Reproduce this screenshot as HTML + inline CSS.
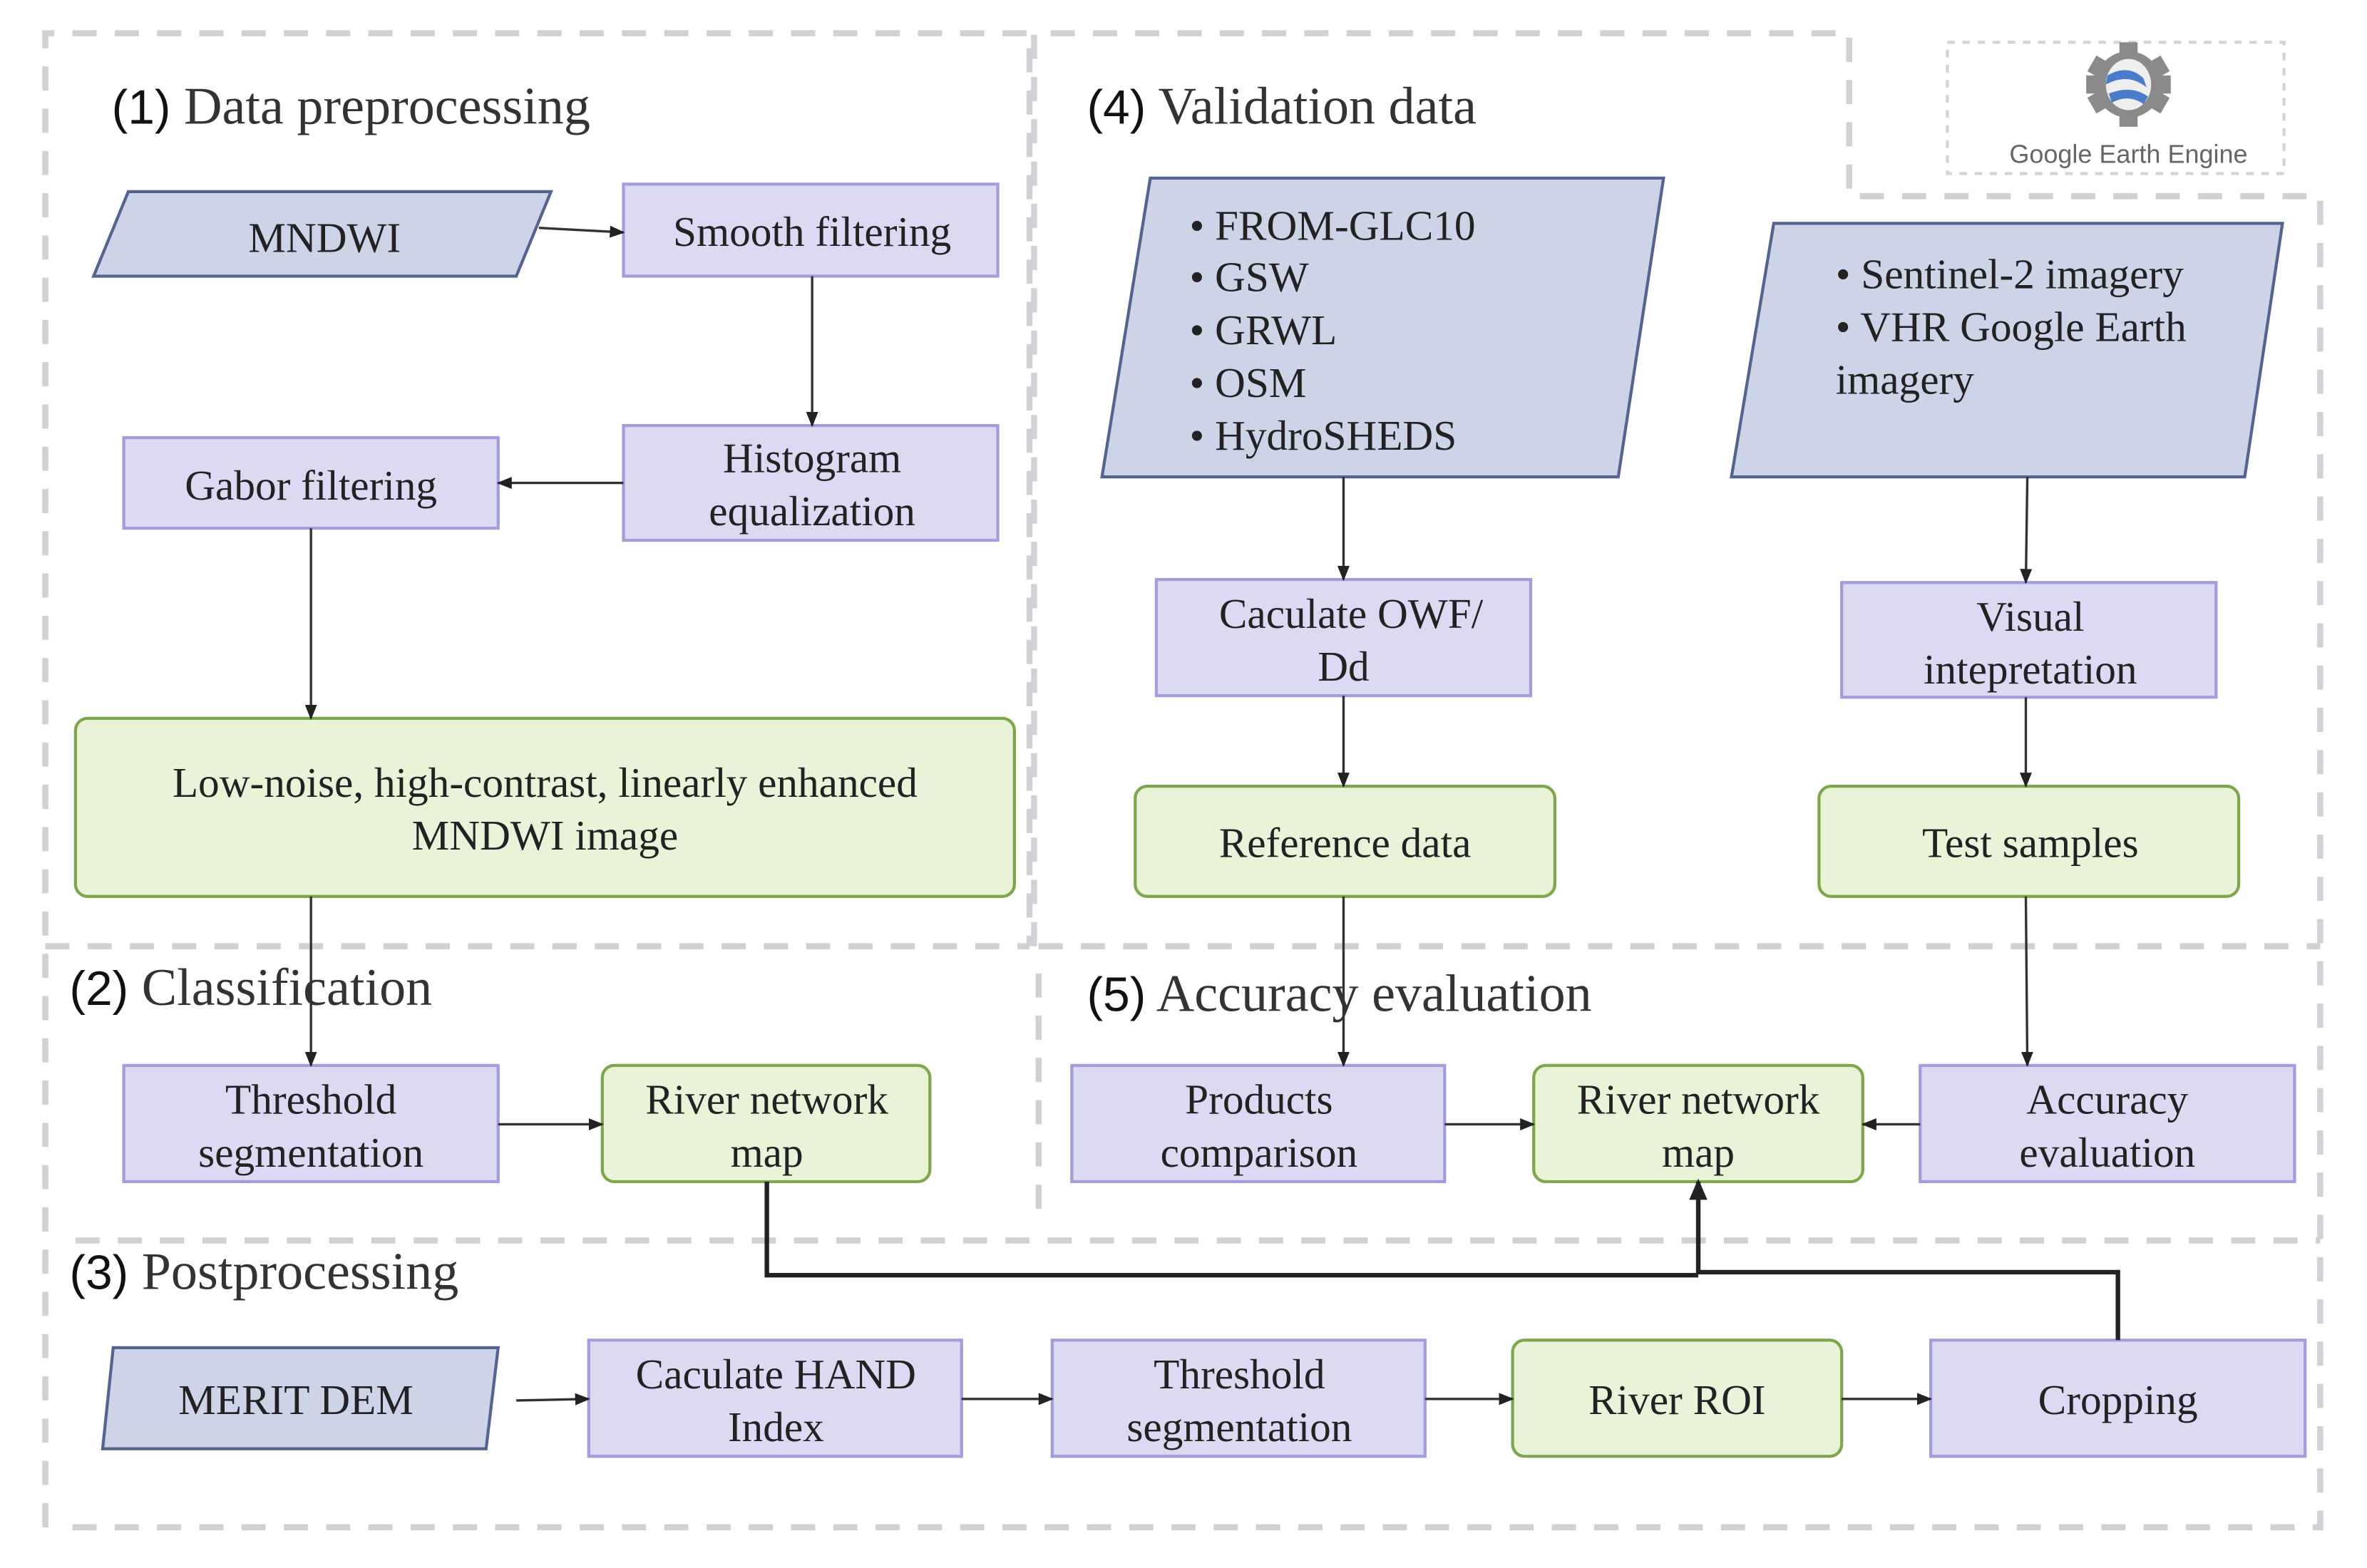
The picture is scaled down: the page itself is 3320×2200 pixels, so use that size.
<!DOCTYPE html>
<html><head><meta charset="utf-8"><style>
html,body{margin:0;padding:0;background:#fff}
svg{display:block}
.t{font-family:"Liberation Serif",serif;font-size:28px;fill:#222;text-anchor:middle}
.h{font-family:"Liberation Serif",serif;font-size:35px;fill:#333}
.n{font-family:"Liberation Sans",sans-serif;font-size:32px;fill:#111}
.b{fill:#dcdaf2;stroke:#a39ddb;stroke-width:2}
.g{fill:#e9f3d7;stroke:#7ea64c;stroke-width:2}
.p{fill:#cdd4e8;stroke:#55648f;stroke-width:2}
.d{fill:none;stroke:#cfd1d4;stroke-width:4;stroke-dasharray:16 12}
.a{stroke:#333;stroke-width:1.6;fill:none;marker-end:url(#ar)}
</style></head><body>
<svg width="3320" height="2200" viewBox="0 0 1568 1039" preserveAspectRatio="none" xmlns="http://www.w3.org/2000/svg">
<defs><marker id="ar" markerWidth="10" markerHeight="10" refX="9" refY="5" orient="auto" markerUnits="userSpaceOnUse"><path d="M0,1 L10,5 L0,9 z" fill="#222"/></marker>
<marker id="ar2" markerWidth="14" markerHeight="14" refX="12" refY="7" orient="auto" markerUnits="userSpaceOnUse"><path d="M0,1 L14,7 L0,13 z" fill="#222"/></marker></defs>
<rect width="1568" height="1039" fill="#fff"/>
<path class="d" d="M30,1012 V22 H682 V627"/>
<path class="d" d="M685,627 V22 H1225 V130 H1537 V1012 H40"/>
<path class="d" d="M30,627 H682"/>
<path class="d" d="M688,627 H1537"/>
<path class="d" d="M688,645 V810"/>
<path class="d" d="M50,822 H1537"/>
<rect x="1290" y="28" width="223" height="87" fill="none" stroke="#d4d4d4" stroke-width="2" stroke-dasharray="5 5"/>
<g transform="translate(1410,56)">
<circle r="22" fill="#8a8a8a"/>
<g fill="#8a8a8a"><rect x="-6" y="-28" width="12" height="10"/><rect x="-6" y="18" width="12" height="10"/><rect x="-28" y="-6" width="10" height="12"/><rect x="18" y="-6" width="10" height="12"/>
<rect x="-6" y="-28" width="12" height="10" transform="rotate(60)"/><rect x="-6" y="-28" width="12" height="10" transform="rotate(120)"/><rect x="-6" y="-28" width="12" height="10" transform="rotate(-60)"/><rect x="-6" y="-28" width="12" height="10" transform="rotate(-120)"/></g>
<ellipse rx="15" ry="17" fill="#eee"/>
<path d="M-14,-6 Q0,-14 10,-4 L12,2 Q0,-8 -15,0Z M-13,6 Q2,0 13,8 L10,13 Q0,6 -11,12Z" fill="#4a7cc9"/>
</g>
<text x="1410" y="108" font-family="Liberation Sans,sans-serif" font-size="17" fill="#666" text-anchor="middle">Google Earth Engine</text>
<text x="74" y="82"><tspan class="n">(1)</tspan><tspan class="h"> Data preprocessing</tspan></text>
<text x="720" y="82"><tspan class="n">(4)</tspan><tspan class="h"> Validation data</tspan></text>
<text x="46" y="666"><tspan class="n">(2)</tspan><tspan class="h"> Classification</tspan></text>
<text x="720" y="670"><tspan class="n">(5)</tspan><tspan class="h"> Accuracy evaluation</tspan></text>
<text x="46" y="854"><tspan class="n">(3)</tspan><tspan class="h"> Postprocessing</tspan></text>
<polygon class="p" points="85,127 365,127 342,183 62,183"/>
<text class="t" x="215" y="167">MNDWI</text>
<rect class="b" x="413" y="122" width="248" height="61"/>
<text class="t" x="538" y="163">Smooth filtering</text>
<rect class="b" x="413" y="282" width="248" height="76"/>
<text class="t" x="538" y="313">Histogram</text><text class="t" x="538" y="348">equalization</text>
<rect class="b" x="82" y="290" width="248" height="60"/>
<text class="t" x="206" y="331">Gabor filtering</text>
<rect class="g" x="50" y="476" width="622" height="118" rx="8"/>
<text class="t" x="361" y="528">Low-noise, high-contrast, linearly enhanced</text>
<text class="t" x="361" y="563">MNDWI image</text>
<polygon class="p" points="762,118 1102,118 1072,316 730,316"/>
<text class="t" x="788" y="159" style="text-anchor:start">• FROM-GLC10</text>
<text class="t" x="788" y="193" style="text-anchor:start">• GSW</text>
<text class="t" x="788" y="228" style="text-anchor:start">• GRWL</text>
<text class="t" x="788" y="263" style="text-anchor:start">• OSM</text>
<text class="t" x="788" y="298" style="text-anchor:start">• HydroSHEDS</text>
<polygon class="p" points="1175,148 1512,148 1487,316 1147,316"/>
<text class="t" x="1216" y="191" style="text-anchor:start">• Sentinel-2 imagery</text>
<text class="t" x="1216" y="226" style="text-anchor:start">• VHR Google Earth</text>
<text class="t" x="1216" y="261" style="text-anchor:start">imagery</text>
<rect class="b" x="766" y="384" width="248" height="77"/>
<text class="t" x="895" y="416">Caculate OWF/</text><text class="t" x="890" y="451">Dd</text>
<rect class="b" x="1220" y="386" width="248" height="76"/>
<text class="t" x="1345" y="418">Visual</text><text class="t" x="1345" y="453">intepretation</text>
<rect class="g" x="752" y="521" width="278" height="73" rx="8"/>
<text class="t" x="891" y="568">Reference data</text>
<rect class="g" x="1205" y="521" width="278" height="73" rx="8"/>
<text class="t" x="1345" y="568">Test samples</text>
<rect class="b" x="82" y="706" width="248" height="77"/>
<text class="t" x="206" y="738">Threshold</text><text class="t" x="206" y="773">segmentation</text>
<rect class="g" x="399" y="706" width="217" height="77" rx="8"/>
<text class="t" x="508" y="738">River network</text><text class="t" x="508" y="773">map</text>
<rect class="b" x="710" y="706" width="247" height="77"/>
<text class="t" x="834" y="738">Products</text><text class="t" x="834" y="773">comparison</text>
<rect class="g" x="1016" y="706" width="218" height="77" rx="8"/>
<text class="t" x="1125" y="738">River network</text><text class="t" x="1125" y="773">map</text>
<rect class="b" x="1272" y="706" width="248" height="77"/>
<text class="t" x="1396" y="738">Accuracy</text><text class="t" x="1396" y="773">evaluation</text>
<polygon class="p" points="75,893 330,893 322,960 68,960"/>
<text class="t" x="196" y="937">MERIT DEM</text>
<rect class="b" x="390" y="888" width="247" height="77"/>
<text class="t" x="514" y="920">Caculate HAND</text><text class="t" x="514" y="955">Index</text>
<rect class="b" x="697" y="888" width="247" height="77"/>
<text class="t" x="821" y="920">Threshold</text><text class="t" x="821" y="955">segmentation</text>
<rect class="g" x="1002" y="888" width="218" height="77" rx="8"/>
<text class="t" x="1111" y="937">River ROI</text>
<rect class="b" x="1279" y="888" width="248" height="77"/>
<text class="t" x="1403" y="937">Cropping</text>
<path class="a" d="M357,151 L413,154"/>
<path class="a" d="M538,183 V282"/>
<path class="a" d="M413,320 H330"/>
<path class="a" d="M206,350 V476"/>
<path class="a" d="M206,594 V706"/>
<path class="a" d="M330,745 H399"/>
<path class="a" d="M890,316 V384"/>
<path class="a" d="M890,461 V521"/>
<path class="a" d="M890,594 V706"/>
<path class="a" d="M1343,316 L1342,386"/>
<path class="a" d="M1342,462 V521"/>
<path class="a" d="M1342,594 L1343,706"/>
<path class="a" d="M957,745 H1016"/>
<path class="a" d="M1272,745 H1234"/>
<path class="a" d="M342,928 L390,927"/>
<path class="a" d="M637,927 H697"/>
<path class="a" d="M944,927 H1002"/>
<path class="a" d="M1220,927 H1279"/>
<path d="M508,783 V845 H1125" stroke="#222" stroke-width="3" fill="none"/>
<path d="M1403,888 V843 H1125 V783" stroke="#222" stroke-width="3" fill="none" marker-end="url(#ar2)"/>
</svg>
</body></html>
